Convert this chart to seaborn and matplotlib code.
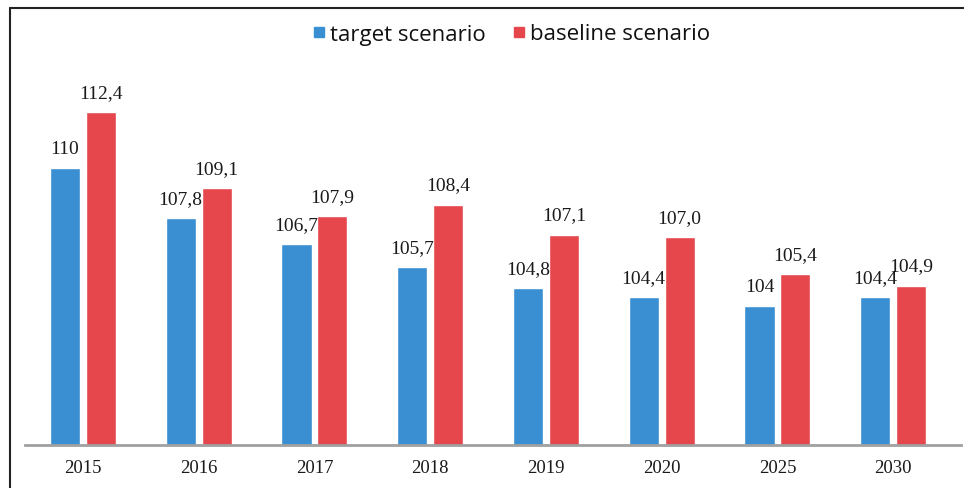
import pandas as pd
import matplotlib
matplotlib.use('Agg')
import matplotlib.pyplot as plt
import seaborn as sns
from matplotlib.lines import Line2D

years = ['2015', '2016', '2017', '2018', '2019', '2020', '2025', '2030']
target = [110, 107.8, 106.7, 105.7, 104.8, 104.4, 104, 104.4]
baseline = [112.4, 109.1, 107.9, 108.4, 107.1, 107.0, 105.4, 104.9]
target_lbl = ['110', '107,8', '106,7', '105,7', '104,8', '104,4', '104', '104,4']
baseline_lbl = ['112,4', '109,1', '107,9', '108,4', '107,1', '107,0', '105,4', '104,9']
series = ['target scenario', 'baseline scenario']
colors = ['#3a8fd2', '#e6474d']

df = pd.DataFrame({
    'year': years * 2,
    'value': target + baseline,
    'series': [series[0]] * len(years) + [series[1]] * len(years),
})

sns.set_style('white')

fig = plt.figure(figsize=(9.64, 4.89), dpi=100)
ax = fig.add_axes([25 / 964, 43 / 489, 936 / 964, 386 / 489])

sns.barplot(data=df, x='year', y='value', hue='series', palette=colors,
            width=0.62, gap=0.16, legend=False, ax=ax, saturation=1)

ax.set_xlim(-0.5, 7.586)
ax.set_ylim(98, 114.7)

# value labels
for cont, lbls in zip(ax.containers, [target_lbl, baseline_lbl]):
    ax.bar_label(cont, labels=lbls, padding=8, fontsize=14,
                 family='Liberation Serif', color='#1a1a1a')

ax.set_xlabel('')
ax.set_ylabel('')
ax.set_yticks([])
ax.tick_params(axis='x', length=0, pad=10)
for t in ax.get_xticklabels():
    t.set_fontfamily('Liberation Serif')
    t.set_fontsize(13.5)
    t.set_color('#1a1a1a')

for s in ['top', 'right', 'left']:
    ax.spines[s].set_visible(False)
ax.spines['bottom'].set_color('#a0a0a0')
ax.spines['bottom'].set_linewidth(2)

handles = [Line2D([], [], marker='s', linestyle='', color=c, markersize=7) for c in colors]
leg = fig.legend(handles, series, loc='center', bbox_to_anchor=(509 / 964, 1 - 35 / 489),
                 ncol=2, frameon=False, prop={'family': 'Open Sans', 'size': 16},
                 handletextpad=0.0, columnspacing=1.0, handlelength=1.0)
for t in leg.get_texts():
    t.set_color('#111111')

# outer frame (left and top edges)
fig.add_artist(Line2D([10 / 964, 10 / 964], [0, 1 - 9 / 489], color='#222222', lw=1.5,
                      transform=fig.transFigure))
fig.add_artist(Line2D([10 / 964, 1], [1 - 9 / 489, 1 - 9 / 489], color='#222222', lw=1.5,
                      transform=fig.transFigure))

fig.savefig('out.png', dpi=100)
